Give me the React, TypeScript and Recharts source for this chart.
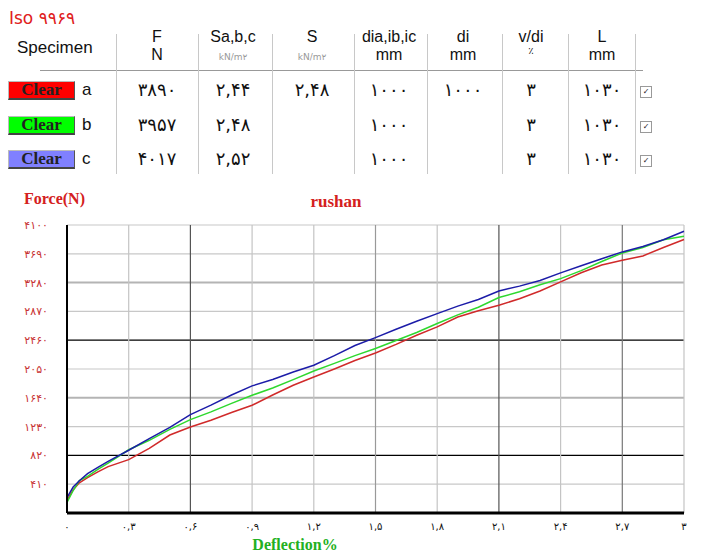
import React from 'react';
import { LineChart, Line, XAxis, YAxis, ReferenceLine } from 'recharts';

// table values (as printed)
const columnHeads = ['F', 'Sa,b,c', 'S', 'dia,ib,ic', 'di', 'v/di', 'L'];
const columnUnits = ['N', 'kN/m۲', 'kN/m۲', 'mm', 'mm', '٪', 'mm'];
const specimens = ['a', 'b', 'c'];
const buttonColors = ['#ff0000', '#00ff00', '#8080ff'];
const tableRows = [
  ['۳۸۹۰', '۲,۴۴', '۲,۴۸', '۱۰۰۰', '۱۰۰۰', '۳', '۱۰۳۰'],
  ['۳۹۵۷', '۲,۴۸', '', '۱۰۰۰', '', '۳', '۱۰۳۰'],
  ['۴۰۱۷', '۲,۵۲', '', '۱۰۰۰', '', '۳', '۱۰۳۰'],
];

// curve readings
const deflection = [0, 0.03, 0.06, 0.1, 0.15, 0.2, 0.3, 0.4, 0.5, 0.6, 0.7, 0.8, 0.9, 1.0, 1.1, 1.2, 1.3, 1.4, 1.5, 1.6, 1.7, 1.8, 1.9, 2.0, 2.1, 2.2, 2.3, 2.4, 2.5, 2.6, 2.7, 2.8, 2.9, 3.0];
const forceA = [180, 330, 430, 505, 585, 660, 760, 920, 1110, 1225, 1320, 1430, 1534, 1680, 1818, 1937, 2050, 2170, 2278, 2400, 2530, 2649, 2790, 2880, 2958, 3050, 3160, 3290, 3420, 3530, 3598, 3660, 3780, 3893];
const forceB = [150, 320, 460, 520, 620, 710, 900, 1035, 1190, 1329, 1440, 1560, 1676, 1780, 1899, 2022, 2130, 2240, 2341, 2455, 2570, 2697, 2820, 2930, 3067, 3150, 3250, 3337, 3450, 3580, 3702, 3780, 3890, 3940];
const forceC = [220, 370, 460, 560, 650, 735, 893, 1060, 1220, 1400, 1535, 1680, 1810, 1900, 2008, 2103, 2240, 2385, 2497, 2615, 2730, 2839, 2945, 3040, 3161, 3230, 3310, 3418, 3520, 3620, 3717, 3795, 3890, 4011];

const xTicks = [0, 0.3, 0.6, 0.9, 1.2, 1.5, 1.8, 2.1, 2.4, 2.7, 3];
const yTicks = [0, 410, 820, 1230, 1640, 2050, 2460, 2870, 3280, 3690, 4100];

const xGridColors: Record<string, string> = { '0.6': '#555', '2.1': '#555', '2.7': '#777', '1.5': '#999' };
const yGridColors: Record<string, string> = { '820': '#000', '2460': '#000', '1640': '#b4b4b4', '3280': '#b4b4b4' };

const data = deflection.map((d, i) => ({ d, a: forceA[i], b: forceB[i], c: forceC[i] }));

const toFa = (s: string) => s.replace(/[0-9]/g, (ch) => '۰۱۲۳۴۵۶۷۸۹'[+ch]).replace('.', ',');

const colCenters = [157, 233, 312, 389, 463, 531, 602];
const separators = [116, 198, 272, 354, 427, 502, 568, 635];
const rowY = [90, 125, 159];

function Txt({ x, y, size = 16, color = '#111', font, weight, children }: any) {
  return (
    <div
      style={{
        position: 'absolute', left: x, top: y, transform: 'translate(-50%, -50%)',
        fontSize: size, color, whiteSpace: 'nowrap', lineHeight: 1,
        fontFamily: font, fontWeight: weight,
      }}
    >
      {children}
    </div>
  );
}

export default function App() {
  return (
    <div style={{ position: 'absolute', left: 0, top: 0, width: 704, height: 556, background: '#fff', overflow: 'hidden', fontFamily: '"Liberation Sans", Arial, sans-serif' }}>
      <div style={{ position: 'absolute', left: 9, top: 8, fontSize: 17, color: '#e02020', fontFamily: '"DejaVu Sans", sans-serif' }}>Iso ۹۹۶۹</div>
      <div style={{ position: 'absolute', left: 17, top: 38, fontSize: 17, color: '#111' }}>Specimen</div>

      {/* header */}
      {columnHeads.map((h, i) => (
        <Txt key={h} x={colCenters[i]} y={37} size={16}>{h}</Txt>
      ))}
      {columnUnits.map((u, i) => {
        const small = u.startsWith('kN');
        const pct = u === '٪';
        return (
          <Txt key={i} x={colCenters[i]} y={small ? 57 : pct ? 51 : 55} size={small ? 9 : pct ? 10 : 16} color={small ? '#999' : '#111'} font={small || pct ? '"DejaVu Sans", sans-serif' : undefined}>
            {u}
          </Txt>
        );
      })}
      <div style={{ position: 'absolute', left: 40, top: 70, width: 603, height: 1, background: '#999' }} />
      {separators.map((x) => (
        <div key={x} style={{ position: 'absolute', left: x, top: 34, width: 1, height: 140, background: '#c8c8c8' }} />
      ))}

      {/* rows */}
      {specimens.map((s, r) => (
        <React.Fragment key={s}>
          <div style={{ position: 'absolute', left: 8, top: rowY[r] - 9, width: 65, height: 16, background: buttonColors[r], borderTop: '1px solid #bbb', borderLeft: '1px solid #bbb', borderRight: '1px solid #555', borderBottom: '2px solid #444', display: 'flex', alignItems: 'center', justifyContent: 'center', fontFamily: '"Liberation Serif", serif', fontWeight: 'bold', fontSize: 17, color: '#222' }}>
            Clear
          </div>
          <div style={{ position: 'absolute', left: 82, top: rowY[r] - 9, fontSize: 17, lineHeight: 1, color: '#111' }}>{s}</div>
          {tableRows[r].map((v, c) => (
            <Txt key={c} x={colCenters[c]} y={rowY[r]} size={18} font='"DejaVu Sans", sans-serif'>{v}</Txt>
          ))}
          <div style={{ position: 'absolute', left: 640, top: rowY[r] - 4, width: 10, height: 10, border: '1px solid #999', fontSize: 8, lineHeight: '10px', textAlign: 'center', color: '#222', fontFamily: '"DejaVu Sans", sans-serif' }}>✓</div>
        </React.Fragment>
      ))}

      {/* chart titles */}
      <div style={{ position: 'absolute', left: 24, top: 190, fontFamily: '"Liberation Serif", serif', fontWeight: 'bold', fontSize: 16, color: '#d42020' }}>Force(N)</div>
      <Txt x={336} y={201} size={17} color="#d42020" font='"Liberation Serif", serif' weight="bold">rushan</Txt>
      <Txt x={295} y={545} size={16} color="#22b022" font='"Liberation Serif", serif' weight="bold">Deflection%</Txt>

      <div style={{ position: 'absolute', left: 0, top: 180 }}>
        <LineChart width={704} height={376} data={data} margin={{ top: 45, right: 20, bottom: 0, left: 0 }}>
          <XAxis
            dataKey="d"
            type="number"
            domain={[0, 3]}
            ticks={xTicks}
            height={43}
            tickSize={0}
            tickMargin={10}
            axisLine={{ stroke: '#000', strokeWidth: 3 }}
            tick={{ fill: '#111', fontSize: 10, fontFamily: '"DejaVu Sans", sans-serif' }}
            tickFormatter={(v: number) => toFa(String(+v.toFixed(1)))}
          />
          <YAxis
            type="number"
            domain={[0, 4100]}
            ticks={yTicks}
            width={67}
            tickSize={0}
            tickMargin={19}
            axisLine={{ stroke: '#000', strokeWidth: 2 }}
            tick={{ fill: '#c83232', fontSize: 11, fontFamily: '"DejaVu Sans", sans-serif' }}
            tickFormatter={(v: number) => (v === 0 ? '' : toFa(String(v)))}
          />
          {yTicks.slice(1).map((t) => (
            <ReferenceLine key={'y' + t} y={t} stroke={yGridColors[String(t)] || '#c8c8c8'} strokeWidth={yGridColors[String(t)] && yGridColors[String(t)] !== '#000' ? 2 : 1.2} />
          ))}
          {xTicks.slice(1).map((t) => (
            <ReferenceLine key={'x' + t} x={t} stroke={xGridColors[String(t)] || '#c4c4c4'} strokeWidth={1.2} />
          ))}
          <Line type="linear" dataKey="a" stroke="#d02a2a" strokeWidth={1.5} dot={false} isAnimationActive={false} />
          <Line type="linear" dataKey="b" stroke="#2ed82e" strokeWidth={1.5} dot={false} isAnimationActive={false} />
          <Line type="linear" dataKey="c" stroke="#1c1ca8" strokeWidth={1.5} dot={false} isAnimationActive={false} />
        </LineChart>
      </div>
    </div>
  );
}
